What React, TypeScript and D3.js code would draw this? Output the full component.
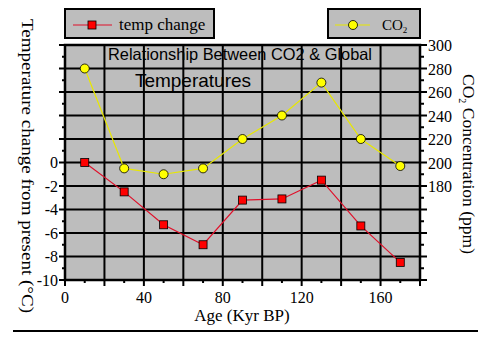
import React from "react";
import * as d3 from "d3";

const ages = [10, 30, 50, 70, 90, 110, 130, 150, 170];
const tempChange = [0, -2.5, -5.3, -7.0, -3.2, -3.1, -1.5, -5.4, -8.5];
const co2 = [280, 195, 190, 195, 220, 240, 268, 220, 197];
const ageTicks = [0, 40, 80, 120, 160];
const tempTicks = [-10, -8, -6, -4, -2, 0];
const co2Ticks = [180, 200, 220, 240, 260, 280, 300];

const W = 492, H = 338;
const L = 65, R = 420, T = 45, B = 280;
const serif = "'Liberation Serif', 'Times New Roman', serif";
const sans = "'Liberation Sans', Arial, sans-serif";

export default function App() {
  const x = d3.scaleLinear().domain([0, 180]).range([L, R]);
  const yT = d3.scaleLinear().domain([-10, 10]).range([B, T]);
  const yC = d3.scaleLinear().domain([100, 300]).range([B, T]);

  const tempLine = d3.line<number>().x((_, i) => x(ages[i])).y((d) => yT(d));
  const co2Line = d3.line<number>().x((_, i) => x(ages[i])).y((d) => yC(d));

  const gridX = d3.range(20, 180, 20);
  const gridY = d3.range(-8, 10, 2);
  const minorX = d3.range(0, 181, 10);
  const minorT = d3.range(-10, 11, 1);
  const minorC = d3.range(100, 301, 10);

  return (
    <svg width={W} height={H} style={{ position: "absolute", left: 0, top: 0, background: "#fff" }}>
      {/* legends */}
      <rect x={65} y={9} width={149} height={29} fill="#bdbdbd" stroke="#000" strokeWidth={2} />
      <line x1={73} x2={112} y1={25} y2={25} stroke="#e0102a" strokeWidth={1.2} />
      <rect x={88} y={21} width={8} height={8} fill="#ff0000" stroke="#000" strokeWidth={0.8} />
      <text x={119} y={30} fontFamily={serif} fontSize={17} fill="#000">temp change</text>

      <rect x={328} y={9} width={92} height={29} fill="#bdbdbd" stroke="#000" strokeWidth={2} />
      <line x1={335} x2={370} y1={25} y2={25} stroke="#e8e800" strokeWidth={1.2} />
      <circle cx={353} cy={25} r={4.5} fill="#ffff00" stroke="#000" strokeWidth={0.8} />
      <text x={382} y={30} fontFamily={serif} fontSize={15} fill="#000">
        CO<tspan fontSize={9} dy={3}>2</tspan>
      </text>

      {/* plot background */}
      <rect x={L} y={T} width={R - L} height={B - T} fill="#bdbdbd" />

      {/* title text (under grid) */}
      <text x={240} y={60} textAnchor="middle" fontFamily={sans} fontSize={16.5} fill="#000"
        textLength={264} lengthAdjust="spacingAndGlyphs">
        Relationship Between CO2 &amp; Global
      </text>
      <text x={193} y={87} textAnchor="middle" fontFamily={sans} fontSize={19} fill="#000">
        Temperatures
      </text>

      {/* grid */}
      {gridX.map((v) => (
        <line key={"gx" + v} x1={x(v)} x2={x(v)} y1={T} y2={B} stroke="#000" strokeWidth={2} />
      ))}
      {gridY.map((v) => (
        <line key={"gy" + v} x1={L} x2={R} y1={yT(v)} y2={yT(v)} stroke="#000" strokeWidth={2} />
      ))}
      <rect x={L} y={T} width={R - L} height={B - T} fill="none" stroke="#000" strokeWidth={2.5} />

      {/* ticks */}
      {minorX.map((v) => (
        <line key={"tx" + v} x1={x(v)} x2={x(v)} y1={B} y2={B + (v % 20 === 0 ? 6 : 3)} stroke="#000" strokeWidth={2} />
      ))}
      {minorT.map((v) => (
        <line key={"tt" + v} x1={L - (v % 2 === 0 ? 6 : 3)} x2={L} y1={yT(v)} y2={yT(v)} stroke="#000" strokeWidth={2} />
      ))}
      {minorC.map((v) => (
        <line key={"tc" + v} x1={R} x2={R + (v % 20 === 0 ? 7 : 4)} y1={yC(v)} y2={yC(v)} stroke="#000" strokeWidth={2} />
      ))}

      {/* tick labels */}
      {ageTicks.map((v) => (
        <text key={"lx" + v} x={x(v)} y={303} textAnchor="middle" fontFamily={serif} fontSize={16} fill="#000">{v}</text>
      ))}
      {tempTicks.map((v) => (
        <text key={"lt" + v} x={58} y={yT(v)} dy="0.35em" textAnchor="end" fontFamily={serif} fontSize={16} fill="#000">{v}</text>
      ))}
      {co2Ticks.map((v) => (
        <text key={"lc" + v} x={428} y={yC(v)} dy="0.4em" textAnchor="start" fontFamily={serif} fontSize={16} fill="#000">{v}</text>
      ))}

      {/* axis titles */}
      <text transform={`translate(22,166) rotate(90)`} textAnchor="middle" fontFamily={serif} fontSize={17} fill="#000"
        textLength={294} lengthAdjust="spacingAndGlyphs">
        Temperature change from present (°C)
      </text>
      <text transform={`translate(463,164) rotate(90)`} textAnchor="middle" fontFamily={serif} fontSize={17.5} fill="#000">
        CO<tspan fontSize={10} dy={4}>2</tspan><tspan dy={-4}> Concentration (ppm)</tspan>
      </text>
      <text x={242} y={321} textAnchor="middle" fontFamily={serif} fontSize={17} fill="#000">Age (Kyr BP)</text>

      {/* bottom rule */}
      <line x1={13} x2={478} y1={331} y2={331} stroke="#000" strokeWidth={2} />

      {/* series */}
      <path d={co2Line(co2) || ""} fill="none" stroke="#e8e800" strokeWidth={1.2} />
      <path d={tempLine(tempChange) || ""} fill="none" stroke="#e0102a" strokeWidth={1.2} />
      {co2.map((v, i) => (
        <circle key={"c" + i} cx={x(ages[i])} cy={yC(v)} r={4.5} fill="#ffff00" stroke="#000" strokeWidth={0.8} />
      ))}
      {tempChange.map((v, i) => (
        <rect key={"s" + i} x={x(ages[i]) - 4} y={yT(v) - 4} width={8} height={8} fill="#ff0000" stroke="#000" strokeWidth={0.8} />
      ))}
    </svg>
  );
}
